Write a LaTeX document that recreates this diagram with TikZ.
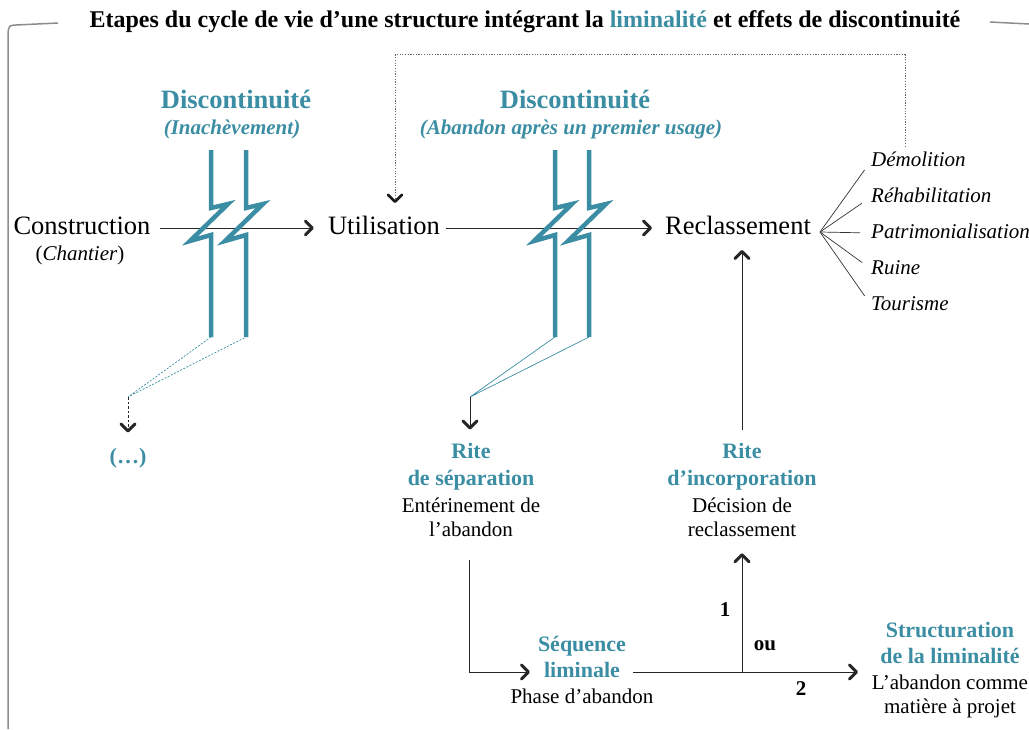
\documentclass[tikz,border=0pt]{standalone}
\usepackage{fontspec}
\setmainfont{Liberation Serif}
\usetikzlibrary{arrows.meta}
\definecolor{teal1}{RGB}{58,141,163}
\definecolor{framec}{RGB}{140,140,140}
\begin{document}
\begin{tikzpicture}[x=1pt,y=1pt,
  big/.style={font=\fontsize{26.5}{30}\selectfont, inner sep=0pt, text height=19pt, text depth=6.5pt},
  sm/.style={font=\fontsize{21}{25}\selectfont, inner sep=0pt, text height=15pt, text depth=5pt},
  smi/.style={sm, font=\fontsize{21}{25}\selectfont\itshape},
  smb/.style={sm, font=\fontsize{21}{25}\selectfont\bfseries},
  head/.style={font=\fontsize{22}{26}\selectfont\bfseries, text=teal1, inner sep=0pt, text height=15.5pt, text depth=5pt},
  disc/.style={font=\fontsize{26.5}{30}\selectfont\bfseries, text=teal1, inner sep=0pt, text height=19pt, text depth=6.5pt},
  discsub/.style={font=\fontsize{21}{25}\selectfont\bfseries\itshape, text=teal1, inner sep=0pt, text height=15pt, text depth=5pt},
  conn/.style={draw=black!85, line width=1pt},
  tipv/.tip={Straight Barb[length=7pt,width=14pt,line width=0pt 3, round]},
  tipd/.tip={Straight Barb[length=7pt,width=14pt,line width=2.6pt, round, color=black!90]},
  arr/.style={conn, -tipv},
  bolt/.style={draw=teal1, line width=4.5pt, line join=miter, line cap=butt},
  fanline/.style={draw=black!80, line width=0.7pt},
  dotline/.style={draw=black!60, line width=0.9pt, dash pattern=on 1.2pt off 1.5pt},
]
\useasboundingbox (0,0) rectangle (1029,-729);

% frame
\draw[framec, line width=1.5pt] (58,-23) -- (16,-25) .. controls (9,-25.5) .. (8,-33) -- (8,-729);
\draw[framec, line width=1.5pt] (990,-22) -- (1029,-24);

% title
\node (title) at (525,-22) {\fontsize{24}{28}\selectfont\bfseries Etapes du cycle de vie d’une structure intégrant la {\color{teal1}liminalité} et effets de discontinuité};

% main row
\node[big] (constr) at (82,-228) {Construction};
\node[sm] (chant) at (80,-255) {(\textit{Chantier})};
\node[big] (util) at (384,-228) {Utilisation};
\node[big] (reclass) at (738,-228) {Reclassement};

% discontinuity labels
\node[disc] (disc1) at (236,-102) {Discontinuité};
\node[discsub] (disc1s) at (232,-129) {(Inachèvement)};
\node[disc] (disc2) at (575,-102) {Discontinuité};
\node[discsub] (disc2s) at (571,-129) {(Abandon après un premier usage)};

% arrows main row (behind bolts)
\draw[arr, shorten <=9pt, shorten >=14pt] (constr.east) -- (constr.east -| util.west);
\draw[arr, shorten <=6pt, shorten >=13pt] (util.east) -- (util.east -| reclass.west);

% bolts
\foreach \bx in {211,246,555,589}
  \draw[bolt] (\bx,-150) -- (\bx,-208) -- (\bx+17,-204) -- (\bx-21,-241) -- (\bx,-235) -- (\bx,-337);

\coordinate (b1) at (211,-337);
\coordinate (b2) at (246,-337);
\coordinate (b3) at (555,-337);
\coordinate (b4) at (589,-337);
\coordinate (c1) at (128,-397);
\coordinate (c2) at (470,-397);

% outcomes list
\node[smi, anchor=west] (demol) at (871,-161) {Démolition};
\node[smi, anchor=west] (rehab) at (871,-197) {Réhabilitation};
\node[smi, anchor=west] (patri) at (871,-233) {Patrimonialisation};
\node[smi, anchor=west] (ruine) at (871,-269) {Ruine};
\node[smi, anchor=west] (touri) at (871,-305) {Tourisme};
\coordinate (fan) at (820,-232);
\foreach \n in {demol,rehab,patri,ruine,touri}
  \draw[fanline, shorten >=11pt] (fan) -- (\n.west);

% dotted return loop
\draw[dotline, -tipd, shorten <=4pt, shorten >=12pt]
  ([xshift=-13pt]demol.north) -- ++(0,96) -| ([xshift=11pt]util.north);

% first discontinuity branch
\draw[teal1, line width=0.7pt, dash pattern=on 2pt off 1.5pt] (b1) -- (c1) -- (b2);
\node[head] (dots) at (128,-458) {(…)};
\draw[arr, dash pattern=on 2.5pt off 2pt, shorten >=15pt] (c1) -- (c1 |- dots.north);

% second discontinuity branch
\draw[teal1, line width=0.7pt] (b3) -- (c2) -- (b4);

% rite de separation
\node[head] (sep1) at (471,-453) {Rite};
\node[head] (sep2) at (471,-480) {de séparation};
\node[sm] (sep3) at (471,-507) {Entérinement de};
\node[sm] (sep4) at (471,-531) {l’abandon};
\draw[arr, shorten >=13pt] (c2) -- (c2 |- sep1.north);

% rite d'incorporation
\node[head] (inc1) at (742,-453) {Rite};
\node[head] (inc2) at (742,-480) {d’incorporation};
\node[sm] (inc3) at (742,-507) {Décision de};
\node[sm] (inc4) at (742,-531) {reclassement};
\draw[arr, shorten <=13pt, shorten >=9pt] (inc1.north) -- (inc1.north |- reclass.south);

% sequence liminale
\node[head] (seq1) at (582,-646) {Séquence};
\node[head] (seq2) at (582,-672) {liminale};
\node[sm] (seq3) at (582,-698) {Phase d’abandon};
\draw[arr, shorten <=19pt, shorten >=14pt] ([xshift=-2pt]sep4.south) |- (seq2.west);

% structuration
\node[head] (st1) at (950,-632) {Structuration};
\node[head] (st2) at (950,-658) {de la liminalité};
\node[sm] (st3) at (950,-684) {L’abandon comme};
\node[sm] (st4) at (950,-708) {matière à projet};
\coordinate (sIn) at (858,-670);
\draw[arr, shorten <=13pt] (seq2.east) -- (seq2.east -| sIn);
\draw[arr, shorten >=12pt] (inc4.south |- seq2.east) -- (inc4.south);

% choice labels
\node[smb] (one) at (725,-611) {1};
\node[smb] (ou) at (765,-645) {ou};
\node[smb] (two) at (801,-690) {2};
\end{tikzpicture}
\end{document}
